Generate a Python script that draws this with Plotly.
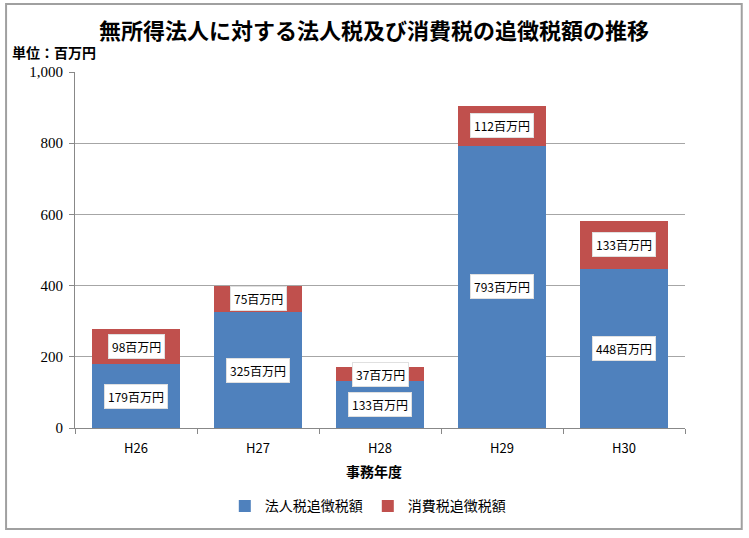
import plotly.graph_objects as go

categories = ["H26", "H27", "H28", "H29", "H30"]
corp_tax = [179, 325, 133, 793, 448]
consumption_tax = [98, 75, 37, 112, 133]
series_names = ["法人税追徴税額", "消費税追徴税額"]
y_ticks = [0, 200, 400, 600, 800, 1000]
y_tick_labels = ["0", "200", "400", "600", "800", "1,000"]

BLUE = "#4F81BD"
RED = "#C0504D"
JP = "Noto Sans CJK JP"

fig = go.Figure()
fig.add_trace(go.Bar(x=categories, y=corp_tax, name=series_names[0],
                     marker=dict(color=BLUE, line=dict(width=0))))
fig.add_trace(go.Bar(x=categories, y=consumption_tax, name=series_names[1],
                     marker=dict(color=RED, line=dict(width=0))))

annotations = []
for c, a, b in zip(categories, corp_tax, consumption_tax):
    for base, v in ((0, a), (a, b)):
        annotations.append(dict(
            x=c, y=base + v / 2, xref="x", yref="y",
            text=f"{v}百万円", showarrow=False,
            font=dict(family=JP, size=12, color="#000000"),
            bgcolor="#FFFFFF", borderpad=3, bordercolor="#E0E0E0", borderwidth=1,
        ))

annotations.append(dict(
    x=0.49, y=1.12, xref="paper", yref="paper", xanchor="center", yanchor="middle",
    text="<b>無所得法人に対する法人税及び消費税の追徴税額の推移</b>", showarrow=False,
    font=dict(family=JP, size=22, color="#000000")))
annotations.append(dict(
    x=-0.106, y=1.055, xref="paper", yref="paper", xanchor="left", yanchor="middle",
    text="<b>単位：百万円</b>", showarrow=False,
    font=dict(family=JP, size=14, color="#000000")))
annotations.append(dict(
    x=0.49, y=-0.12, xref="paper", yref="paper", xanchor="center", yanchor="middle",
    text="<b>事務年度</b>", showarrow=False,
    font=dict(family=JP, size=14, color="#000000")))

fig.update_layout(
    barmode="stack",
    bargap=0.28,
    width=749, height=538,
    margin=dict(l=75, r=64, t=72, b=110, autoexpand=False),
    paper_bgcolor="#FFFFFF", plot_bgcolor="#FFFFFF",
    showlegend=True,
    legend=dict(orientation="h", x=0.48, y=-0.22, xanchor="center", yanchor="middle",
                font=dict(family=JP, size=14, color="#000000"),
                itemsizing="constant", traceorder="normal", itemwidth=30),
    annotations=annotations,
    shapes=[dict(type="rect", xref="paper", yref="paper",
                 x0=-0.113, x1=1.093, y0=-0.284, y1=1.191,
                 line=dict(color="#A0A0A0", width=2), fillcolor="rgba(0,0,0,0)")],
    xaxis=dict(
        automargin=False,
        tickfont=dict(family=JP, size=13, color="#000000"),
        ticklabelstandoff=8,
        showline=True, linecolor="#888888", linewidth=1,
        ticks="outside", tickson="boundaries", tickcolor="#888888", ticklen=5,
        showgrid=False,
    ),
    yaxis=dict(
        automargin=False,
        range=[0, 1000], tickvals=y_ticks, ticktext=y_tick_labels,
        tickfont=dict(family="Liberation Serif", size=15, color="#000000"),
        ticklabelstandoff=3,
        showline=True, linecolor="#888888", linewidth=1,
        ticks="outside", tickcolor="#888888", ticklen=5,
        showgrid=True, gridcolor="#A6A6A6", gridwidth=1,
        zeroline=False,
    ),
)

fig.write_html("out.html", config={"displayModeBar": False},
               post_script="document.body.style.margin='0px';")
